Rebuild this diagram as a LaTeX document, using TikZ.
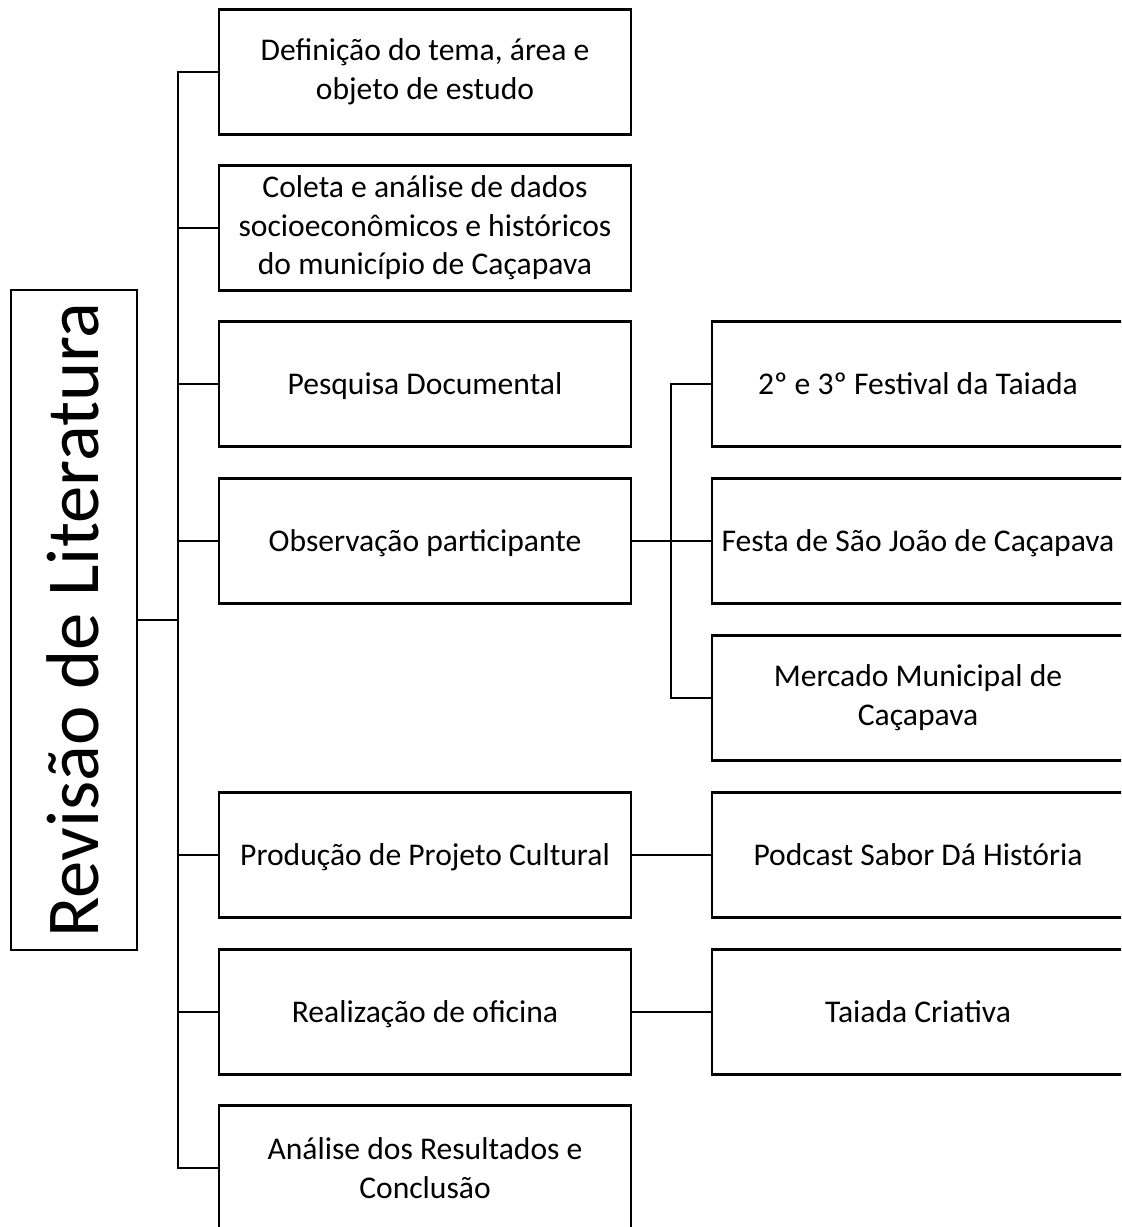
\documentclass[tikz,border=0pt]{standalone}
\usepackage{fontspec}
\setmainfont{Carlito}
\begin{document}
\begin{tikzpicture}[x=0.75pt,y=-0.75pt,
  stepbox/.style={draw=black,line width=1.8pt,minimum width=309pt,minimum height=94pt,inner sep=0pt,align=center,font=\fontsize{23.7}{29}\selectfont},
  oneline/.style={text height=15.3pt,text depth=0pt},
  mainbox/.style={draw=black,line width=1.8pt,minimum width=495pt,minimum height=94.5pt,inner sep=0pt,rotate=90,text height=36pt,text depth=0pt,font=\fontsize{56}{66}\selectfont},
  conn/.style={draw=black,line width=1.8pt}]
\useasboundingbox (0,0) rectangle (1121,1227);
\clip (0,0) rectangle (1121,1227);
\node[mainbox] (lit) at (74,620) {Revisão de Literatura};
\node[stepbox] (b1) at (425,72) {Definição do tema, área e\\objeto de estudo};
\node[stepbox] (b2) at (425,228) {Coleta e análise de dados\\socioeconômicos e históricos\\do município de Caçapava};
\node[stepbox,oneline] (b3) at (425,384) {Pesquisa Documental};
\node[stepbox,oneline] (b4) at (425,541) {Observação participante};
\node[stepbox,oneline] (b5) at (425,855) {Produção de Projeto Cultural};
\node[stepbox,oneline] (b6) at (425,1012) {Realização de oficina};
\node[stepbox] (b7) at (425,1168) {Análise dos Resultados e\\Conclusão};
\node[stepbox,oneline] (r1) at (918,384) {2º e 3º Festival da Taiada};
\node[stepbox,oneline] (r2) at (918,541) {Festa de São João de Caçapava};
\node[stepbox] (r3) at (918,698) {Mercado Municipal de\\Caçapava};
\node[stepbox,oneline] (r4) at (918,855) {Podcast Sabor Dá História};
\node[stepbox,oneline] (r5) at (918,1012) {Taiada Criativa};
\coordinate (tr) at (178,620);
\coordinate (st) at (671,541);
\draw[conn] (lit.south) -- (tr);
\foreach \b in {b1,b2,b3,b4,b5,b6,b7}{\draw[conn] (tr) |- (\b.west);}
\draw[conn] (b4.east) -- (r2.west);
\draw[conn] (st) |- (r1.west);
\draw[conn] (st) |- (r3.west);
\draw[conn] (b5.east) -- (r4.west);
\draw[conn] (b6.east) -- (r5.west);
\end{tikzpicture}
\end{document}
